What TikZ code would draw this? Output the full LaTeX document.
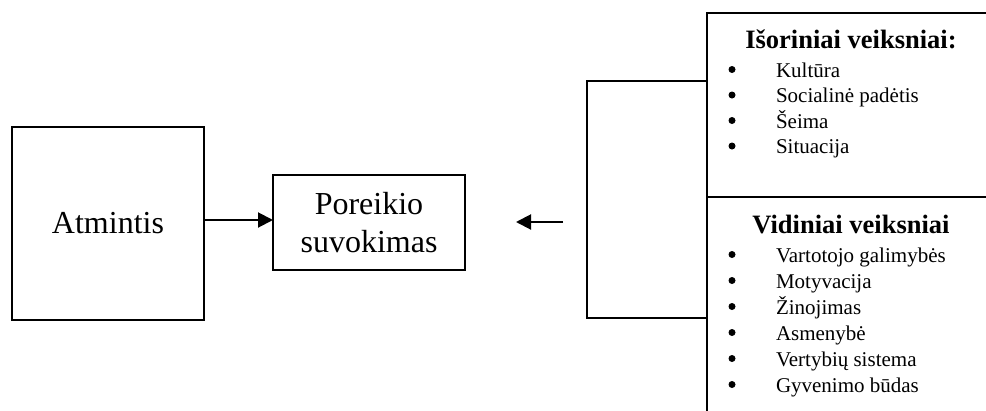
\documentclass[tikz,border=0pt]{standalone}
\usepackage{fontspec}
\setmainfont{Liberation Serif}
\usetikzlibrary{arrows.meta}
\begin{document}
\begin{tikzpicture}[x=1pt,y=-1pt,
  line width=2pt,
  box/.style={draw, line width=2pt, inner sep=0pt, outer sep=0pt},
  big/.style={font=\fontsize{32}{38}\selectfont},
  head/.style={font=\fontsize{26.5}{30}\selectfont\bfseries, anchor=base, inner sep=0pt},
  item/.style={font=\fontsize{21}{25}\selectfont, anchor=base west, inner sep=0pt},
  bul/.style={circle, fill=black, draw=none, inner sep=0pt, minimum size=7pt},
  arr/.style={-{Triangle[length=15pt,width=15pt]}, line width=2pt}]
\useasboundingbox (0,0) rectangle (986,410);
\clip (0,0) rectangle (986,410);
% left boxes
\node[box, big, minimum width=192pt, minimum height=193pt] (atm) at (108,223.5) {Atmintis};
\node[box, big, minimum width=192pt, minimum height=95pt, align=center] (por) at (369,222.5) {Poreikio\\suvokimas};
\draw[arr] ([yshift=3.5pt]atm.east) -- ([yshift=2.5pt]por.west);
% free arrow
\coordinate (tailL) at (563,222);
\coordinate (tipL) at (516,222);
\draw[arr] (tailL) -- (tipL);
% right boxes
\node[box, anchor=north west, minimum width=300pt, minimum height=184pt] (ext) at (707,13) {};
\node[box, anchor=north west, minimum width=300pt, minimum height=230pt] (int) at (707,197) {};
% bracket
\coordinate (bt) at (707,81);
\coordinate (bb) at (707,318);
\draw (bt) -- ++(-120,0) |- (bb);
% external factors
\node[head] (h1) at (851,48) {Išoriniai veiksniai:};
\foreach \t [count=\i] in {Kultūra, Socialinė padėtis, Šeima, Situacija} {
  \node[bul] (b1\i) at (732,{77+25.5*(\i-1)-7.5}) {};
  \node[item] (e\i) at (775,{77+25.5*(\i-1)}) {\t};
}
% internal factors
\node[head] (h2) at (851,233) {Vidiniai veiksniai};
\foreach \t [count=\i] in {Vartotojo galimybės, Motyvacija, Žinojimas, Asmenybė, Vertybių sistema, Gyvenimo būdas} {
  \node[bul] (b2\i) at (732,{262+26*(\i-1)-7.5}) {};
  \node[item] (v\i) at (775,{262+26*(\i-1)}) {\t};
}
\end{tikzpicture}
\end{document}
